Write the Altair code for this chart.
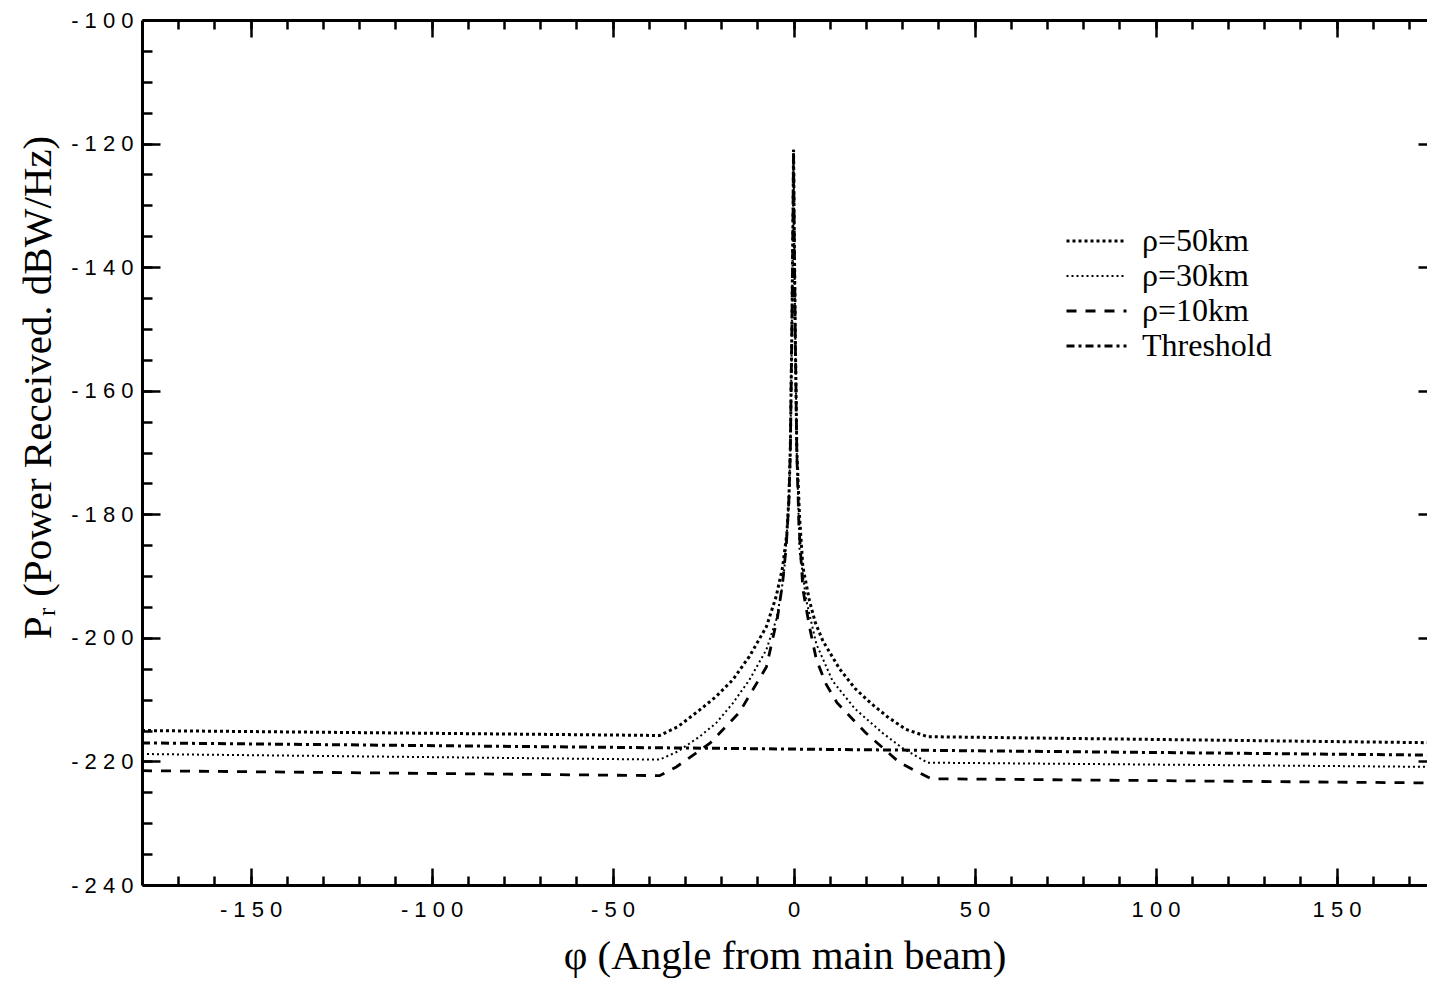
import altair as alt
import pandas as pd

series_names = ["ρ=50km", "ρ=30km", "ρ=10km", "Threshold"]

phi_50 = [-180, -37, -32, -26, -21.4, -16.8, -12.2, -7.5, -4.8, -3, -1.85, -1.3, -0.9, -0.5, -0.2, 0,
          0.2, 0.5, 0.9, 1.66, 2.57, 4.4, 6, 8.1, 12.7, 17, 21.4, 26, 31, 37, 180]
pr_50 = [-215.0, -215.8, -214.4, -211.7, -209.5, -206.8, -203.0, -198.2, -193.3, -188.5, -183.1, -177.7, -169.6, -152, -135, -121,
         -135, -152, -169.6, -180.4, -188.5, -194.0, -197.5, -200.5, -205.0, -208.2, -210.6, -212.8, -214.8, -216.0, -217.0]

phi_30 = [-180, -37, -32, -26, -21.4, -16.8, -12.2, -7.5, -4.8, -3.4, -2.5, -1.85, -1.3, -0.9, -0.5, -0.2, 0,
          0.2, 0.5, 0.9, 1.66, 3.5, 6.3, 10.8, 17, 24.6, 30, 37, 180]
pr_30 = [-218.8, -219.7, -218.4, -216.0, -213.8, -210.6, -206.8, -201.9, -197.1, -192.8, -188.5, -183.1, -177.7, -170, -152, -135, -121,
         -135, -152, -170, -185.8, -193.9, -201.0, -207.0, -211.5, -215.4, -217.8, -220.2, -220.9]

phi_10 = [-180, -37, -32.4, -23, -15, -7.5, -4.4, -3, -2, -1.3, -0.9, -0.5, -0.2, 0,
          0.2, 0.5, 0.9, 1.5, 2.6, 4.4, 6.3, 9, 12, 20, 29.3, 38, 180]
pr_10 = [-221.5, -222.3, -220.9, -217.0, -212.1, -204.7, -196.6, -191.0, -185, -178, -170, -152, -135, -121,
         -135, -152, -170, -182, -192.2, -198.2, -203.5, -207.5, -210.5, -215.4, -220.2, -222.8, -223.5]

phi_th = [-180, 0, 180]
pr_th = [-217.0, -218.0, -219.0]

x_major = [-150, -100, -50, 0, 50, 100, 150]
x_minor = list(range(-170, 180, 10))
y_major = [-240, -220, -200, -180, -160, -140, -120, -100]
y_minor = list(range(-235, -100, 5))
y_right = [-220, -200, -180, -160, -140, -120]

rows = []
for name, ph, pr in zip(series_names, [phi_50, phi_30, phi_10, phi_th], [pr_50, pr_30, pr_10, pr_th]):
    for a, b in zip(ph, pr):
        rows.append({"phi": a, "pr": b, "series": name})
df = pd.DataFrame(rows)

xscale = alt.Scale(domain=[-180, 175.0], nice=False, zero=False)
yscale = alt.Scale(domain=[-240, -100], nice=False, zero=False)

LABEL_EXPR = "join(split(toString(datum.value), ''), ' ')"


def ax(**kw):
    base = dict(grid=False, domain=False, labels=False, ticks=True, title=None,
                tickColor="black", tickWidth=2.5, labelFlush=False, labelOverlap=False)
    base.update(kw)
    return alt.Axis(**base)


def frame(orient):
    return alt.Axis(orient=orient, grid=False, domain=True, domainColor="black", domainWidth=3,
                    ticks=False, labels=False, title=None)


x_bottom_major = ax(orient="bottom", values=x_major, offset=-17, tickSize=17, labels=True,
                    labelExpr=LABEL_EXPR, labelFont="Liberation Sans", labelFontSize=22,
                    labelColor="black", labelPadding=14,
                    title="φ (Angle from main beam)", titleFont="Liberation Serif", titleFontSize=41,
                    titleFontWeight="normal", titleColor="black", titlePadding=16)
y_left_major = ax(orient="left", values=y_major, offset=-18, tickSize=18, labels=True,
                  labelExpr=LABEL_EXPR, labelFont="Liberation Sans", labelFontSize=22,
                  labelColor="black", labelPadding=9,
                  title="Pᵣ (Power Received. dBW/Hz)", titleFont="Liberation Serif", titleFontSize=41,
                  titleFontWeight="normal", titleColor="black", titlePadding=11, titleY=367)

legend_kw = dict(title=None, orient="none", legendX=923, legendY=205, symbolType="stroke",
                 symbolSize=3600, symbolStrokeColor="black", labelFont="Liberation Serif",
                 labelFontSize=32, labelColor="black", labelOffset=14, rowPadding=3,
                 clipHeight=32, padding=0, labelLimit=0)

lines = alt.Chart(df).mark_line(color="black", clip=True).encode(
    x=alt.X("phi:Q", scale=xscale, axis=x_bottom_major),
    y=alt.Y("pr:Q", scale=yscale, axis=y_left_major),
    strokeDash=alt.StrokeDash(
        "series:N",
        scale=alt.Scale(domain=series_names, range=[[3, 3], [2, 3], [10, 9], [8, 4, 3, 4]]),
        legend=alt.Legend(**legend_kw),
    ),
    strokeWidth=alt.StrokeWidth(
        "series:N",
        scale=alt.Scale(type="ordinal", domain=series_names, range=[3, 2, 2.8, 3]),
        legend=alt.Legend(**legend_kw),
    ),
)

pts = df.iloc[:2]


def axis_layer(xa, ya):
    enc = {}
    enc["x"] = alt.X("phi:Q", scale=xscale, axis=xa) if xa is not None else alt.X("phi:Q", scale=xscale, axis=None)
    enc["y"] = alt.Y("pr:Q", scale=yscale, axis=ya) if ya is not None else alt.Y("pr:Q", scale=yscale, axis=None)
    return alt.Chart(pts).mark_point(opacity=0).encode(**enc)


l2 = axis_layer(ax(orient="bottom", values=x_minor, offset=-9, tickSize=9),
                ax(orient="left", values=y_minor, offset=-10, tickSize=10))
l3 = axis_layer(ax(orient="top", values=x_major, offset=-17, tickSize=17),
                ax(orient="right", values=y_right, offset=-9, tickSize=9))
l4 = axis_layer(ax(orient="top", values=x_minor, offset=-9, tickSize=9), frame("left"))
l5 = axis_layer(frame("bottom"), None)
l6 = axis_layer(frame("top"), None)

chart = alt.layer(lines, l2, l3, l4, l5, l6).resolve_axis(
    x="independent", y="independent"
).properties(
    width=1285, height=865,
    autosize=alt.AutoSizeParams(type="none"),
    padding={"left": 134, "top": 12, "right": 0, "bottom": 93},
).configure_view(stroke="transparent")

chart.save("out.html", embed_options={"renderer": "svg", "actions": False})
